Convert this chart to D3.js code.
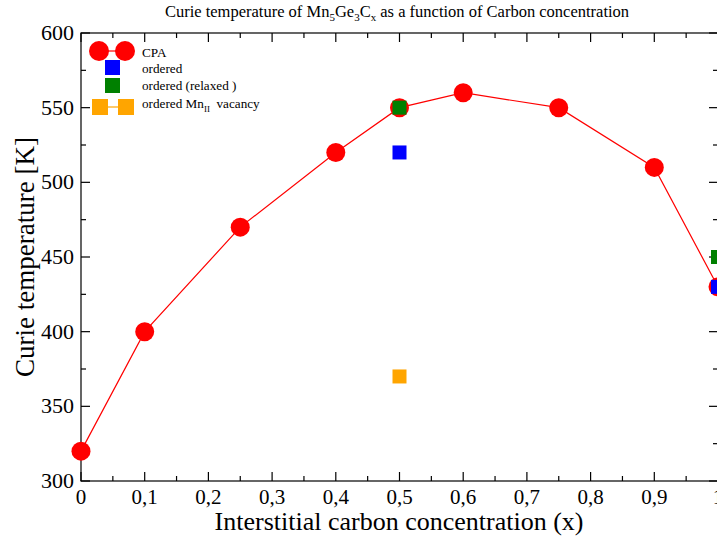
<!DOCTYPE html>
<html><head><meta charset="utf-8">
<script src="https://cdn.jsdelivr.net/npm/d3@7"></script>
<style>body{margin:0;background:#fff;} text{font-family:"Liberation Serif","DejaVu Serif",serif;}</style>
</head><body>
<svg id="c" width="717" height="540" font-family="Liberation Serif, DejaVu Serif, serif"></svg>
<script>
const cpaX = [0, 0.1, 0.25, 0.4, 0.5, 0.6, 0.75, 0.9, 1.0];
const cpaY = [320, 400, 470, 520, 550, 560, 550, 510, 430];
const orderedX = [0.5, 1.0];
const orderedY = [520, 430];
const relaxedX = [0.5, 1.0];
const relaxedY = [550, 450];
const vacancyX = [0.5];
const vacancyY = [370];
const xTicks = [0, 0.1, 0.2, 0.3, 0.4, 0.5, 0.6, 0.7, 0.8, 0.9, 1];
const yTicks = [300, 350, 400, 450, 500, 550, 600];

const svg = d3.select("#c");
const L = 81, R = 718, T = 33, B = 481;
const x = d3.scaleLinear().domain([0, 1]).range([L, R]);
const y = d3.scaleLinear().domain([300, 600]).range([B, T]);
const fmt = d => d === 0 ? "0" : d === 1 ? "1" : String(d).replace(".", ",");

// frame
svg.append("rect").attr("x", L).attr("y", T).attr("width", R - L).attr("height", B - T)
  .attr("fill", "none").attr("stroke", "#000").attr("stroke-width", 1.2);

// ticks
const g = svg.append("g").attr("stroke", "#000").attr("stroke-width", 1.2);
d3.range(0, 1.0001, 0.05).forEach((v, i) => {
  const len = i % 2 === 0 ? 9 : 5;
  g.append("line").attr("x1", x(v)).attr("x2", x(v)).attr("y1", B).attr("y2", B - len);
  g.append("line").attr("x1", x(v)).attr("x2", x(v)).attr("y1", T).attr("y2", T + len);
});
d3.range(300, 600.01, 25).forEach((v, i) => {
  const len = i % 2 === 0 ? 9 : 5;
  g.append("line").attr("y1", y(v)).attr("y2", y(v)).attr("x1", L).attr("x2", L + len);
  g.append("line").attr("y1", y(v)).attr("y2", y(v)).attr("x1", R).attr("x2", R - len);
});

// tick labels
svg.append("g").selectAll("text").data(xTicks).join("text")
  .attr("x", d => x(d)).attr("y", 504).attr("text-anchor", "middle")
  .attr("font-size", 21).text(fmt);
svg.append("g").selectAll("text").data(yTicks).join("text")
  .attr("x", 74).attr("y", d => y(d) + 7).attr("text-anchor", "end")
  .attr("font-size", 22).text(d => d);

// axis titles
svg.append("text").attr("x", 399).attr("y", 530).attr("text-anchor", "middle")
  .attr("font-size", 26).text("Interstitial carbon concentration (x)");
svg.append("text").attr("transform", "translate(34,257) rotate(-90)").attr("text-anchor", "middle")
  .attr("font-size", 27).text("Curie temperature [K]");

// title
const t = svg.append("text").attr("x", 397).attr("y", 17).attr("text-anchor", "middle").attr("font-size", 16.5);
t.append("tspan").text("Curie temperature of Mn");
t.append("tspan").attr("font-size", 11).attr("dy", 4).text("5");
t.append("tspan").attr("dy", -4).text("Ge");
t.append("tspan").attr("font-size", 11).attr("dy", 4).text("3");
t.append("tspan").attr("dy", -4).text("C");
t.append("tspan").attr("font-size", 11).attr("dy", 4).text("x");
t.append("tspan").attr("dy", -4).text(" as a function of Carbon concentration");

// CPA line + circles
const cpa = cpaX.map((d, i) => [d, cpaY[i]]);
svg.append("path").datum(cpa).attr("fill", "none").attr("stroke", "#ff0000").attr("stroke-width", 1.2)
  .attr("d", d3.line().x(d => x(d[0])).y(d => y(d[1])));
svg.append("g").selectAll("circle").data(cpa).join("circle")
  .attr("cx", d => x(d[0])).attr("cy", d => y(d[1])).attr("r", 9.5).attr("fill", "#ff0000");

function squares(xs, ys, color) {
  const data = xs.map((d, i) => [d, ys[i]]);
  svg.append("g").selectAll("rect").data(data).join("rect")
    .attr("x", d => x(d[0]) - 7).attr("y", d => y(d[1]) - 7).attr("width", 14).attr("height", 14)
    .attr("fill", color);
}
squares(vacancyX, vacancyY, "#ffa500");
squares(orderedX, orderedY, "#0000ff");
squares(relaxedX, relaxedY, "#008000");

// legend
const lg = svg.append("g").attr("font-size", 13.2);
lg.append("line").attr("x1", 99).attr("x2", 125).attr("y1", 51).attr("y2", 51).attr("stroke", "#ff0000").attr("stroke-width", 1.2);
lg.append("circle").attr("cx", 99).attr("cy", 51).attr("r", 10).attr("fill", "#ff0000");
lg.append("circle").attr("cx", 125).attr("cy", 51).attr("r", 10).attr("fill", "#ff0000");
lg.append("text").attr("x", 142).attr("y", 57).text("CPA");
lg.append("rect").attr("x", 105).attr("y", 60).attr("width", 15).attr("height", 15).attr("fill", "#0000ff");
lg.append("text").attr("x", 142).attr("y", 73).text("ordered");
lg.append("rect").attr("x", 105).attr("y", 78).attr("width", 15).attr("height", 15).attr("fill", "#008000");
lg.append("text").attr("x", 142).attr("y", 90).text("ordered (relaxed )");
lg.append("line").attr("x1", 100).attr("x2", 126).attr("y1", 107).attr("y2", 107).attr("stroke", "#ffa500").attr("stroke-width", 1.2);
lg.append("rect").attr("x", 92).attr("y", 99).attr("width", 16).attr("height", 16).attr("fill", "#ffa500");
lg.append("rect").attr("x", 118).attr("y", 99).attr("width", 16).attr("height", 16).attr("fill", "#ffa500");
const vt = lg.append("text").attr("x", 142).attr("y", 108);
vt.append("tspan").text("ordered Mn");
vt.append("tspan").attr("font-size", 9).attr("dy", 4).text("II");
vt.append("tspan").attr("dy", -4).text("\u00a0 vacancy");
</script>
</body></html>
